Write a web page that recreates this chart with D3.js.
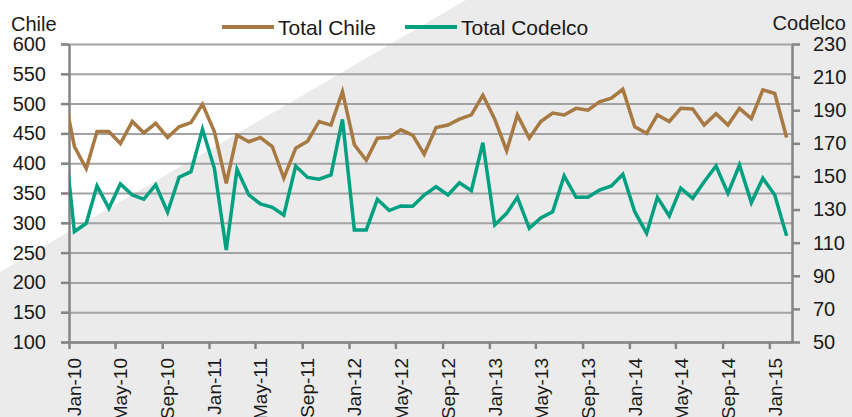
<!DOCTYPE html>
<html>
<head>
<meta charset="utf-8">
<script src="https://cdn.jsdelivr.net/npm/d3@7"></script>
<style>
  body { margin: 0; background: #fff; }
  svg { display: block; font-family: "Liberation Sans", Arial, sans-serif; }
</style>
</head>
<body>
<svg class="line-chart" width="852" height="417"></svg>
<script>
// Monthly points, Dec-09 (half hidden behind the left axis) to Feb-15, plotted mid-month
const months = d3.timeMonth
  .range(new Date(2009, 11, 1), new Date(2015, 2, 1))
  .map(d => d3.timeDay.offset(d, 14));

const chileValues = [
  530,
  428, 391, 453, 453, 433, 470, 451, 467, 443, 461, 468, 499,
  453, 366, 447, 436, 443, 428, 375, 425, 437, 470, 464, 520,
  431, 405, 442, 443, 456, 447, 415, 460, 464, 474, 481, 514,
  474, 421, 481, 442, 470, 484, 481, 492, 489, 503, 509, 524,
  461, 450, 481, 470, 492, 491, 464, 483, 464, 492, 475, 523,
  517, 443
];

const codelcoValues = [
  185,
  116.7, 121.7, 144.3, 130.8, 145.5, 138.8, 136.2, 144.9, 128.4, 149.5, 152.9, 178.5,
  154.9, 105.6, 154.3, 138.8, 133.4, 131.4, 126.7, 156.3, 149.4, 148.3, 150.9, 184.5,
  117.7, 117.7, 136.2, 129.4, 132.2, 132.0, 138.8, 143.8, 138.8, 146.2, 141.4, 170.4,
  120.7, 127.7, 137.4, 118.7, 125.0, 128.7, 150.3, 137.4, 137.4, 141.8, 144.3, 151.3,
  128.7, 115.7, 137.4, 126.1, 142.9, 136.8, 146.8, 156.3, 139.8, 156.9, 134.2, 148.9,
  138.8, 114.1
];

const chileTicks = [100, 150, 200, 250, 300, 350, 400, 450, 500, 550, 600];
const codelcoTicks = [50, 70, 90, 110, 130, 150, 170, 190, 210, 230];
const dateTicks = [
  "Jan-10", "May-10", "Sep-10", "Jan-11", "May-11", "Sep-11", "Jan-12", "May-12",
  "Sep-12", "Jan-13", "May-13", "Sep-13", "Jan-14", "May-14", "Sep-14", "Jan-15"
];

const svg = d3.select(".line-chart");
const plotLeft = 69, plotRight = 792, plotTop = 44, plotBottom = 342;

const chileColor = "#a77943";
const codelcoColor = "#00a081";
const gridColor = "#a3a3a3";
const axisColor = "#858585";

// background: grey with white wedge in the top-left corner
svg.append("rect").attr("width", 852).attr("height", 417).attr("fill", "#ebebeb");
svg.append("polygon").attr("points", "0,0 466,0 0,272").attr("fill", "#ffffff");

const parseTick = d3.timeParse("%b-%y");
const xScale = d3.scaleTime()
  .domain([new Date(2010, 0, 1), new Date(2015, 2, 1)])
  .range([plotLeft, plotRight]);
const yLeft = d3.scaleLinear().domain([100, 600]).range([plotBottom, plotTop]);
const yRight = d3.scaleLinear().domain([50, 230]).range([plotBottom, plotTop]);

// gridlines (they start at the left tick marks)
const grid = svg.append("g")
  .attr("transform", "translate(" + (plotLeft - 8) + ",0)")
  .call(d3.axisLeft(yLeft).tickValues(chileTicks).tickSize(-(plotRight - plotLeft + 8)).tickFormat(""));
grid.select(".domain").remove();
grid.selectAll(".tick line").attr("stroke", gridColor).attr("stroke-width", 2);

// left axis
const leftAxis = svg.append("g")
  .attr("transform", "translate(" + plotLeft + ",0)")
  .call(d3.axisLeft(yLeft).tickValues(chileTicks).tickSize(8).tickSizeOuter(0).tickPadding(15));

// right axis
const rightAxis = svg.append("g")
  .attr("transform", "translate(" + plotRight + ",0)")
  .call(d3.axisRight(yRight).tickValues(codelcoTicks).tickSize(8).tickSizeOuter(0).tickPadding(13));

// bottom axis, labels turned upright
const bottomAxis = svg.append("g")
  .attr("transform", "translate(0," + plotBottom + ")")
  .call(
    d3.axisBottom(xScale)
      .tickValues(dateTicks.map(parseTick))
      .tickSize(7)
      .tickSizeOuter(0)
      .tickFormat(d3.timeFormat("%b-%y"))
  );
bottomAxis.selectAll("text")
  .attr("transform", "rotate(-90)")
  .attr("text-anchor", "end")
  .attr("x", -16)
  .attr("y", 5)
  .attr("dy", "0.35em")
  .attr("font-size", 19);

[leftAxis, rightAxis, bottomAxis].forEach(g => {
  g.select(".domain").attr("stroke", axisColor).attr("stroke-width", 2.5);
  g.selectAll(".tick line").attr("stroke", axisColor).attr("stroke-width", 2.5);
  g.selectAll("text").attr("fill", "#1a1a1a");
});
leftAxis.selectAll("text").attr("font-size", 20);
rightAxis.selectAll("text").attr("font-size", 20);

// series, clipped to the plot area
svg.append("clipPath").attr("id", "plot-clip")
  .append("rect")
  .attr("x", plotLeft).attr("y", 0)
  .attr("width", plotRight - plotLeft).attr("height", plotBottom);

const chileLine = d3.line().x((d, i) => xScale(months[i])).y(d => yLeft(d));
const codelcoLine = d3.line().x((d, i) => xScale(months[i])).y(d => yRight(d));

const lines = svg.append("g").attr("clip-path", "url(#plot-clip)");
lines.append("path")
  .datum(codelcoValues)
  .attr("d", codelcoLine)
  .attr("fill", "none")
  .attr("stroke", codelcoColor)
  .attr("stroke-width", 3.5)
  .attr("stroke-linejoin", "miter");
lines.append("path")
  .datum(chileValues)
  .attr("d", chileLine)
  .attr("fill", "none")
  .attr("stroke", chileColor)
  .attr("stroke-width", 3.5)
  .attr("stroke-linejoin", "miter");

// axis titles
svg.append("text").attr("x", 11).attr("y", 31).attr("font-size", 20).attr("fill", "#1a1a1a").text("Chile");
svg.append("text").attr("x", 846).attr("y", 30).attr("font-size", 20).attr("fill", "#1a1a1a")
  .attr("text-anchor", "end").text("Codelco");

// legend
const legendItems = [
  { name: "Total Chile", color: chileColor, x: 222 },
  { name: "Total Codelco", color: codelcoColor, x: 405 }
];
const legend = svg.selectAll(".legend-item")
  .data(legendItems)
  .enter()
  .append("g")
  .attr("class", "legend-item")
  .attr("transform", d => "translate(" + d.x + ",27)");
legend.append("line")
  .attr("x1", 0).attr("x2", 52)
  .attr("stroke", d => d.color)
  .attr("stroke-width", 4);
legend.append("text")
  .attr("x", 56)
  .attr("dy", "0.36em")
  .attr("font-size", 21)
  .attr("fill", "#1a1a1a")
  .text(d => d.name);
</script>
</body>
</html>
